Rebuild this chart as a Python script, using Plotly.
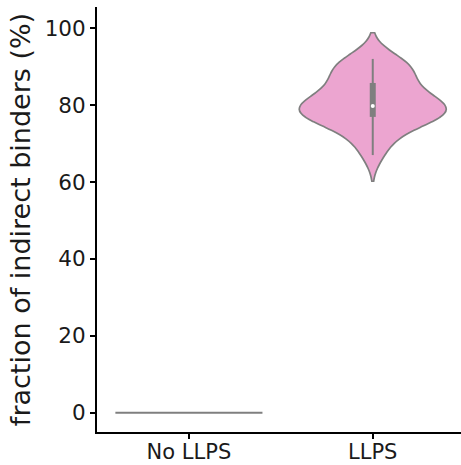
import numpy as np
import plotly.graph_objects as go

categories = ["No LLPS", "LLPS"]
no_llps = [0.0] * 20
llps = [67, 70.5, 73, 75, 76, 76.7,
        77, 77.8, 78.3, 78.8, 79.2, 79.5,
        80, 80.8, 81.7, 82.8, 84, 85.5,
        86.5, 88, 89.5, 90.5, 91.3, 92]
y_ticks = [0, 20, 40, 60, 80, 100]

FILL = "#eca5d0"
EDGE = "#7f7f7f"
WIDTH = 0.8

fig = go.Figure()

# No LLPS: degenerate violin (all values equal) -> horizontal line
v0 = float(np.unique(no_llps)[0])
fig.add_trace(go.Scatter(x=[0 - WIDTH / 2, 0 + WIDTH / 2], y=[v0, v0], mode="lines",
                         line=dict(color=EDGE, width=2), showlegend=False, hoverinfo="skip"))

# LLPS violin
fig.add_trace(go.Violin(x=[1] * len(llps), y=llps, width=WIDTH, bandwidth=3.4,
                        spanmode="soft", scalemode="width", points=False,
                        box_visible=False, meanline_visible=False,
                        fillcolor=FILL, line=dict(color=EDGE, width=1.7),
                        opacity=1, showlegend=False, hoverinfo="skip"))

arr = np.array(llps)
q1, med, q3 = np.percentile(arr, [25, 50, 75])
iqr = q3 - q1
lo = arr[arr >= q1 - 1.5 * iqr].min()
hi = arr[arr <= q3 + 1.5 * iqr].max()
fig.add_trace(go.Scatter(x=[1, 1], y=[lo, hi], mode="lines",
                         line=dict(color=EDGE, width=2), showlegend=False, hoverinfo="skip"))
fig.add_trace(go.Scatter(x=[1, 1], y=[q1, q3], mode="lines",
                         line=dict(color=EDGE, width=6), showlegend=False, hoverinfo="skip"))
fig.add_trace(go.Scatter(x=[1], y=[med], mode="markers",
                         marker=dict(color="white", size=4), showlegend=False, hoverinfo="skip"))

fig.update_layout(
    width=461, height=465,
    margin=dict(l=97, r=0, t=7, b=33),
    paper_bgcolor="white", plot_bgcolor="white",
    font=dict(family="DejaVu Sans", color="#1a1a1a", size=21.5),
    xaxis=dict(range=[-0.5, 1.48], tickvals=[0, 1], ticktext=categories,
               showgrid=False, zeroline=False, showline=True, linecolor="black",
               linewidth=2, ticks="outside", ticklen=5, tickwidth=1.5, tickcolor="black",
               tickfont=dict(size=21), automargin=False, ticklabelstandoff=-5),
    yaxis=dict(range=[-5, 105.5], tickvals=y_ticks,
               showgrid=False, zeroline=False, showline=True, linecolor="black",
               linewidth=2, ticks="outside", ticklen=5, tickwidth=1.5, tickcolor="black",
               tickfont=dict(size=21.5), automargin=False,
               title=dict(text="fraction of indirect binders (%)", font=dict(size=27), standoff=6)),
)

fig.write_html("out.html")
